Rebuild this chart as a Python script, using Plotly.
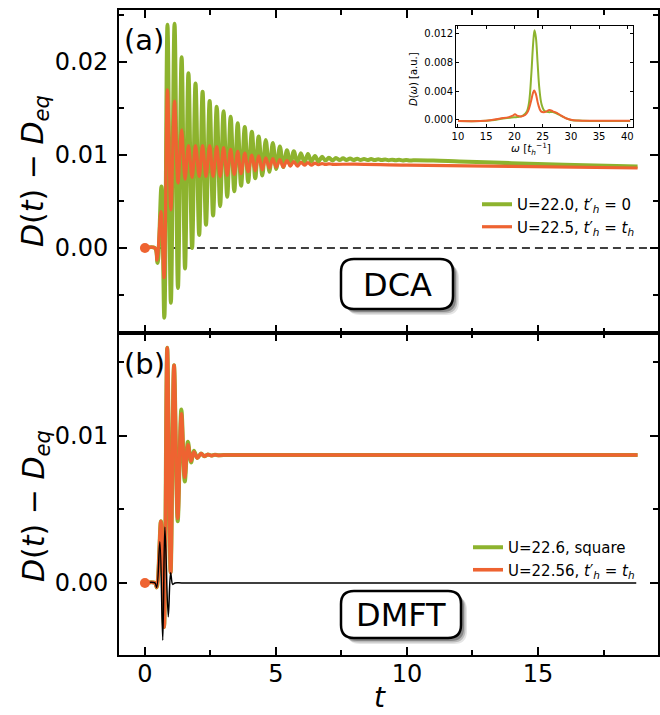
import plotly.graph_objects as go

# ---------------- data ----------------
# Panel (a) DCA, green: U=22.0, t'_h=0  (extrema)
dca_green_t = [0.0, 0.38, 0.48, 0.63, 0.74,
               0.86, 0.99, 1.13, 1.26, 1.40, 1.53, 1.66, 1.80, 1.93, 2.07,
               2.20, 2.33, 2.47, 2.60, 2.74, 2.87, 3.00, 3.14, 3.27, 3.41,
               3.54, 3.67, 3.81, 3.94, 4.08, 4.21, 4.34, 4.48, 4.61, 4.75,
               4.88, 5.01, 5.15, 5.28, 5.42, 5.55, 5.68, 5.82, 5.95, 6.09,
               6.22, 6.35, 6.49, 6.62, 6.76, 6.89, 7.02, 7.16, 7.29, 7.43,
               7.56, 7.69, 7.83, 7.96, 8.10, 8.23, 8.36, 8.50, 8.63, 8.77,
               8.90, 9.03, 9.17, 9.30, 9.44, 9.57, 9.70, 9.84, 9.97, 10.11,
               10.24, 11.0, 12.0, 14.0, 16.0, 18.8]
dca_green_v = [0.0, 0.0, -0.0016, 0.0066, -0.0075,
               0.0240, -0.0059, 0.0241, -0.0043, 0.0205, -0.0022, 0.0188, 0.0000, 0.0177, 0.0014,
               0.0168, 0.0025, 0.0158, 0.0035, 0.0152, 0.0045, 0.0147, 0.0055, 0.0141, 0.0061,
               0.0134, 0.0067, 0.0130, 0.0071, 0.0125, 0.0075, 0.0120, 0.0078, 0.0116, 0.0082,
               0.0113, 0.0085, 0.0109, 0.0087, 0.0105, 0.0089, 0.0104, 0.0091, 0.0102, 0.0092,
               0.0101, 0.0093, 0.0099, 0.0093, 0.0098, 0.0094, 0.0097, 0.0094, 0.00968, 0.00945,
               0.00965, 0.00946, 0.00962, 0.00946, 0.00960, 0.00946, 0.00958, 0.00946, 0.00956, 0.00945,
               0.00954, 0.00945, 0.00952, 0.00944, 0.00950, 0.00943, 0.00948, 0.00942, 0.00946, 0.00941,
               0.00943, 0.00940, 0.00930, 0.00912, 0.00895, 0.00875]

# Panel (a) DCA, orange: U=22.5, t'_h=t_h
dca_orange_t = [0.0, 0.38, 0.46, 0.61, 0.73,
                0.86, 0.99, 1.13, 1.26, 1.40, 1.53, 1.66, 1.80, 1.93, 2.07,
                2.20, 2.33, 2.47, 2.60, 2.74, 2.87, 3.00, 3.14, 3.27, 3.41,
                3.54, 3.67, 3.81, 3.94, 4.08, 4.21, 4.34, 4.48, 4.61, 4.75,
                4.88, 5.01, 5.15, 5.28, 5.42, 5.55, 5.68, 5.82, 5.95, 6.09,
                6.22, 6.35, 6.49, 6.62, 6.76, 6.89, 7.02, 7.16, 8.0, 10.0,
                14.0, 18.8]
dca_orange_v = [0.0, 0.0, -0.0013, 0.0039, -0.0032,
                0.0170, 0.0041, 0.0158, 0.0070, 0.0127, 0.0074, 0.0110, 0.0076, 0.0110, 0.0077,
                0.0110, 0.0077, 0.0110, 0.0077, 0.0109, 0.0077, 0.0108, 0.0078, 0.0106, 0.0079,
                0.0104, 0.0080, 0.0102, 0.0082, 0.0100, 0.0083, 0.0099, 0.0084, 0.0097, 0.0086,
                0.0096, 0.0087, 0.0095, 0.0087, 0.0094, 0.0088, 0.0093, 0.0088, 0.0092, 0.0089,
                0.00918, 0.00892, 0.00912, 0.00895, 0.00908, 0.00898, 0.00905, 0.00900, 0.00902, 0.00890,
                0.00878, 0.00860]

# Panel (b) DMFT
dmft_t = [0.0, 0.38, 0.45, 0.61, 0.73, 0.85, 0.98, 1.11, 1.25, 1.39, 1.52,
          1.64, 1.76, 1.87, 2.00, 2.14, 2.27, 2.40, 2.54, 2.67, 2.80, 3.0, 3.4, 18.8]
dmft_orange_v = [0.0, 0.0, -0.0003, 0.0042, -0.0030, 0.0160, 0.0007, 0.0148, 0.0044, 0.0115, 0.0072,
                 0.0094, 0.0083, 0.0089, 0.0085, 0.0088, 0.00862, 0.00874, 0.00866, 0.00872, 0.00868,
                 0.0087, 0.0087, 0.0087]
dmft_green_v = [0.0, 0.0, -0.0003, 0.0042, -0.0030, 0.0160, 0.0007, 0.0148, 0.0042, 0.0118, 0.0069,
                0.0096, 0.0082, 0.0090, 0.0085, 0.0088, 0.00862, 0.00874, 0.00866, 0.00872, 0.00868,
                0.0087, 0.0087, 0.0087]
dmft_black_t = [0.0, 0.38, 0.45, 0.57, 0.68, 0.76, 0.89, 0.98, 1.06, 1.15, 1.4, 2.0, 18.75]
dmft_black_v = [0.0, 0.0, -0.0003, 0.0028, -0.0039, 0.0038, -0.0023, 0.0007, -0.0001, 0.0, 0.0, 0.0, 0.0]

ref_t = [0.0, 19.2]
ref_v = [0.0, 0.0]

# Inset spectra D(omega)
inset_green_w = [10, 14, 16, 18, 19.5, 20.5, 21.5, 22.2, 22.6, 23.0, 23.3, 23.55, 23.8, 24.1,
                 24.4, 24.8, 25.3, 26.0, 26.8, 27.5, 28.2, 29.0, 30.0, 32, 36, 40.5]
inset_green_v = [-0.00015, -0.00015, -0.00005, 0.0002, 0.00035, 0.0004, 0.0006, 0.0012, 0.0025,
                 0.0065, 0.0105, 0.0125, 0.0115, 0.0080, 0.0045, 0.0022, 0.0013, 0.0011, 0.0011,
                 0.0009, 0.0006, 0.0003, 0.0000, -0.0001, -0.00015, -0.00015]
inset_orange_w = [10, 14, 16, 17.5, 19, 19.7, 20.1, 20.5, 21.2, 21.9, 22.4, 22.9, 23.3, 23.5, 23.8,
                  24.2, 24.7, 25.4, 26.2, 26.8, 27.5, 28.3, 29.2, 30.2, 32, 36, 40.5]
inset_orange_v = [-0.00015, -0.00015, 0.0, 0.0002, 0.0004, 0.0006, 0.0008, 0.0006, 0.0005, 0.0007,
                  0.0012, 0.0025, 0.0038, 0.0041, 0.0036, 0.0022, 0.0012, 0.0011, 0.0014, 0.0012,
                  0.0010, 0.0006, 0.0002, 0.0, -0.0001, -0.0001, -0.0001]

labels_a = ["U=22.0, <i>t</i>′<sub><i>h</i></sub> = 0", "U=22.5, <i>t</i>′<sub><i>h</i></sub> = <i>t<sub>h</sub></i>"]
labels_b = ["U=22.6, square", "U=22.56, <i>t</i>′<sub><i>h</i></sub> = <i>t<sub>h</sub></i>"]

# ---------------- style ----------------
GREEN = "#8db32e"
ORANGE = "#ee6331"
FONT = "DejaVu Sans"
W, H = 660, 715
ML, MR, MT, MB = 119, 2, 10, 60
PW, PH = W - ML - MR, H - MT - MB


def px(x, y):
    return (x - ML) / PW, (H - MB - y) / PH


fig = go.Figure()

# panel (a)
fig.add_trace(go.Scatter(x=ref_t, y=ref_v, mode="lines", xaxis="x", yaxis="y",
                         line=dict(color="black", width=1.5, dash="8px,5px"), showlegend=False))
fig.add_trace(go.Scatter(x=dca_green_t, y=dca_green_v, mode="lines", xaxis="x", yaxis="y",
                         line=dict(color=GREEN, width=4, shape="spline"), name=labels_a[0], legend="legend"))
fig.add_trace(go.Scatter(x=dca_orange_t, y=dca_orange_v, mode="lines", xaxis="x", yaxis="y",
                         line=dict(color=ORANGE, width=3.2, shape="spline"), name=labels_a[1], legend="legend"))
fig.add_trace(go.Scatter(x=[dca_orange_t[0]], y=[dca_orange_v[0]], mode="markers", xaxis="x", yaxis="y",
                         marker=dict(color=ORANGE, size=10), showlegend=False))

# panel (b)
fig.add_trace(go.Scatter(x=dmft_t, y=dmft_green_v, mode="lines", xaxis="x2", yaxis="y2",
                         line=dict(color=GREEN, width=4, shape="spline"), name=labels_b[0], legend="legend2"))
fig.add_trace(go.Scatter(x=dmft_t, y=dmft_orange_v, mode="lines", xaxis="x2", yaxis="y2",
                         line=dict(color=ORANGE, width=3.6, shape="spline"), name=labels_b[1], legend="legend2"))
fig.add_trace(go.Scatter(x=dmft_black_t, y=dmft_black_v, mode="lines", xaxis="x2", yaxis="y2",
                         line=dict(color="black", width=1.5, shape="spline"), showlegend=False))
fig.add_trace(go.Scatter(x=[dmft_t[0]], y=[dmft_orange_v[0]], mode="markers", xaxis="x2", yaxis="y2",
                         marker=dict(color=ORANGE, size=10), showlegend=False))

# inset
fig.add_trace(go.Scatter(x=inset_green_w, y=inset_green_v, mode="lines", xaxis="x3", yaxis="y3",
                         line=dict(color=GREEN, width=2, shape="spline"), showlegend=False))
fig.add_trace(go.Scatter(x=inset_orange_w, y=inset_orange_v, mode="lines", xaxis="x3", yaxis="y3",
                         line=dict(color=ORANGE, width=2, shape="spline"), showlegend=False))

split = (H - MB - 333) / PH

common = dict(showline=True, linecolor="black", linewidth=2, mirror="ticks", ticks="inside",
              ticklen=8, tickwidth=2, tickcolor="black", showgrid=False, zeroline=False, automargin=False,
              tickfont=dict(family=FONT, size=24, color="black"))

x_range = [-0.99, 19.58]
fig.update_layout(
    xaxis=dict(domain=[0, 1], anchor="y", range=x_range, tick0=0, dtick=5, showticklabels=False,
               minor=dict(dtick=2.5, tick0=0, ticks="inside", ticklen=5, tickwidth=1.5, tickcolor="black"),
               matches="x2", **common),
    yaxis=dict(domain=[split, 1], anchor="x", range=[-0.00914, 0.02559], tick0=0, dtick=0.01,
               tickformat=".2f", ticklabelstandoff=4,
               minor=dict(dtick=0.005, tick0=0, ticks="inside", ticklen=5, tickwidth=1.5, tickcolor="black"),
               **common),
    xaxis2=dict(domain=[0, 1], anchor="y2", range=x_range, tick0=0, dtick=5, ticklabelstandoff=-4,
                minor=dict(dtick=2.5, tick0=0, ticks="inside", ticklen=5, tickwidth=1.5, tickcolor="black"),
                **common),
    yaxis2=dict(domain=[0, split], anchor="x2", range=[-0.0049, 0.0170], tick0=0, dtick=0.01,
                tickformat=".2f", ticklabelstandoff=4,
                minor=dict(dtick=0.005, tick0=0, ticks="inside", ticklen=5, tickwidth=1.5, tickcolor="black"),
                **common),
)

inset_common = dict(showline=True, linecolor="black", linewidth=1, mirror="ticks", ticks="inside",
                    ticklen=3, tickwidth=1, tickcolor="black", showgrid=False, zeroline=False, automargin=False,
                    tickfont=dict(family=FONT, size=10, color="black"))
ix0, iy1 = px(456, 127.3)
ix1, iy0 = px(633, 26)
fig.update_layout(
    xaxis3=dict(domain=[ix0, ix1], anchor="y3", range=[9.65, 41.0], tick0=10, dtick=5, **inset_common),
    yaxis3=dict(domain=[iy1, iy0], anchor="x3", range=[-0.00102, 0.0131], tick0=0, dtick=0.004,
                tickformat=".3f", **inset_common),
)


def rounded(x0, y0, x1, y1, r, dx=0, dy=0):
    x0 += dx; x1 += dx; y0 += dy; y1 += dy
    pts = [("M", (x0 + r, y0)), ("L", (x1 - r, y0)), ("Q", (x1, y0), (x1, y0 + r)),
           ("L", (x1, y1 - r)), ("Q", (x1, y1), (x1 - r, y1)), ("L", (x0 + r, y1)),
           ("Q", (x0, y1), (x0, y1 - r)), ("L", (x0, y0 + r)), ("Q", (x0, y0), (x0 + r, y0))]
    s = ""
    for cmd, *ps in pts:
        s += cmd + " " + " ".join("%.5f,%.5f" % px(*p) for p in ps) + " "
    return s + "Z"


shapes = []
for (bx0, by0, bx1, by1) in [(341, 259, 453, 309), (341, 591, 461, 638)]:
    for off, op in [(6, 0.10), (4.5, 0.18), (3, 0.28)]:
        shapes.append(dict(type="path", xref="paper", yref="paper", path=rounded(bx0, by0, bx1, by1, 13, off, off),
                           fillcolor="rgba(0,0,0,%.2f)" % op, line=dict(width=0), layer="above"))
    shapes.append(dict(type="path", xref="paper", yref="paper", path=rounded(bx0, by0, bx1, by1, 13),
                       fillcolor="white", line=dict(color="black", width=2.5), layer="above"))

annotations = []
for txt, (cx, cy) in [("DCA", (397, 285)), ("DMFT", (401, 615))]:
    ax_, ay_ = px(cx, cy)
    annotations.append(dict(text=txt, x=ax_, y=ay_, xref="paper", yref="paper", showarrow=False,
                            font=dict(family=FONT, size=32, color="black"), xanchor="center", yanchor="middle"))
for txt, (cx, cy) in [("(a)", (122, 40)), ("(b)", (122, 364))]:
    ax_, ay_ = px(cx, cy)
    annotations.append(dict(text=txt, x=ax_, y=ay_, xref="paper", yref="paper", showarrow=False,
                            font=dict(family=FONT, size=29, color="black"), xanchor="left", yanchor="middle"))
ytitle = "<i>D</i>(<i>t</i>) − <i>D</i><sub><i>eq</i></sub>"
for cy in (171, 506):
    ax_, ay_ = px(35, cy)
    annotations.append(dict(text=ytitle, x=ax_, y=ay_, xref="paper", yref="paper", showarrow=False, textangle=-90,
                            font=dict(family=FONT, size=30, color="black"), xanchor="center", yanchor="middle"))
ax_, ay_ = px(380, 697)
annotations.append(dict(text="<i>t</i>", x=ax_, y=ay_, xref="paper", yref="paper", showarrow=False,
                        font=dict(family=FONT, size=28, color="black"), xanchor="center", yanchor="middle"))
ax_, ay_ = px(413, 79)
annotations.append(dict(text="<i>D</i>(<i>ω</i>) [a.u.]", x=ax_, y=ay_, xref="paper", yref="paper",
                        showarrow=False, textangle=-90, font=dict(family=FONT, size=10, color="black"),
                        xanchor="center", yanchor="middle"))
ax_, ay_ = px(531, 149)
annotations.append(dict(text="<i>ω</i> [<i>t</i><sub><i>h</i></sub><sup>−1</sup>]", x=ax_, y=ay_,
                        xref="paper", yref="paper", showarrow=False,
                        font=dict(family=FONT, size=10.5, color="black"), xanchor="center", yanchor="middle"))

lx, ly = px(640, 188)
l2x, l2y = px(640, 531)
fig.update_layout(
    width=W, height=H, margin=dict(l=ML, r=MR, t=MT, b=MB, autoexpand=False),
    paper_bgcolor="white", plot_bgcolor="white",
    shapes=shapes, annotations=annotations,
    legend=dict(x=lx, y=ly, xanchor="right", yanchor="top", bgcolor="rgba(0,0,0,0)",
                font=dict(family=FONT, size=15, color="black"), tracegroupgap=0, itemwidth=30),
    legend2=dict(x=l2x, y=l2y, xanchor="right", yanchor="top", bgcolor="rgba(0,0,0,0)",
                 font=dict(family=FONT, size=15, color="black"), tracegroupgap=0, itemwidth=30),
    font=dict(family=FONT, color="black"),
)

fig.write_html("out.html", config={"displayModeBar": False},
               post_script="document.body.style.margin='0';document.body.style.overflow='hidden';")
